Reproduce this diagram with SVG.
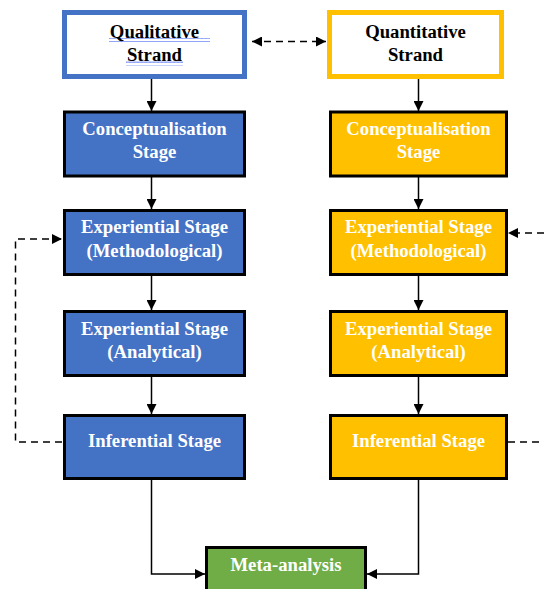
<svg xmlns="http://www.w3.org/2000/svg" width="544" height="589" viewBox="0 0 544 589">
  <style>
    text { font-family: "Liberation Serif", "Times New Roman", serif; font-weight: bold; font-size: 18.7px; text-anchor: middle; }
    .lbl-dark { fill: #000000; }
    .lbl-light { fill: #ffffff; }
    .strand-qual { fill: #ffffff; stroke: #4472C4; stroke-width: 5; }
    .strand-quant { fill: #ffffff; stroke: #FFC000; stroke-width: 5; }
    .stage-blue { fill: #4472C4; stroke: #000000; stroke-width: 3; }
    .stage-gold { fill: #FFC000; stroke: #000000; stroke-width: 3; }
    .stage-green { fill: #70AD47; stroke: #000000; stroke-width: 3; }
    .flow { fill: none; stroke: #000000; stroke-width: 1.5; marker-end: url(#head); }
    .link { fill: none; stroke: #000000; stroke-width: 1.5; stroke-dasharray: 7 5; }
  </style>
  <defs>
    <marker id="head" viewBox="0 0 10 10" refX="10" refY="5" markerWidth="10" markerHeight="10" markerUnits="userSpaceOnUse" orient="auto-start-reverse">
      <path d="M0,0 L10,5 L0,10 Z" fill="#000000"/>
    </marker>
    <pattern id="squiggle" width="4" height="4" patternUnits="userSpaceOnUse">
      <polyline points="0,3 1,1 2,3 3,1 4,3" fill="none" stroke="#4a6cf0" stroke-width="0.7"/>
    </pattern>
  </defs>

  <rect width="544" height="589" fill="#ffffff"/>

  <!-- connectors -->
  <g id="connectors">
    <!-- qualitative column -->
    <line class="flow" x1="151.5" y1="79" x2="151.5" y2="111"/>
    <line class="flow" x1="151.5" y1="177" x2="151.5" y2="209"/>
    <line class="flow" x1="151.5" y1="276" x2="151.5" y2="310"/>
    <line class="flow" x1="151.5" y1="377" x2="151.5" y2="414"/>
    <polyline class="flow" points="151.5,480 151.5,574 205,574"/>
    <!-- quantitative column -->
    <line class="flow" x1="418.5" y1="79" x2="418.5" y2="111"/>
    <line class="flow" x1="418.5" y1="177" x2="418.5" y2="209"/>
    <line class="flow" x1="418.5" y1="276" x2="418.5" y2="310"/>
    <line class="flow" x1="418.5" y1="377" x2="418.5" y2="414"/>
    <polyline class="flow" points="418.5,480 418.5,574 367,574"/>
    <!-- strand link -->
    <line class="link" x1="252" y1="41.5" x2="326" y2="41.5" marker-start="url(#head)" marker-end="url(#head)"/>
    <!-- feedback loops -->
    <polyline class="link" points="62,442 15.5,442 15.5,239 62,239" marker-end="url(#head)"/>
    <line class="link" x1="508" y1="442" x2="544" y2="442"/>
    <line class="link" x1="544" y1="233" x2="508" y2="233" marker-end="url(#head)"/>
  </g>

  <!-- qualitative strand -->
  <g id="qualitative-strand">
    <rect class="strand-qual" x="64.5" y="12.5" width="180" height="64"/>
    <rect x="109" y="38" width="101" height="4" fill="url(#squiggle)"/>
    <rect x="126" y="61.5" width="57" height="4" fill="url(#squiggle)"/>
    <text class="lbl-dark" x="154.5" y="37.5">Qualitative</text>
    <text class="lbl-dark" x="154.5" y="61">Strand</text>
  </g>

  <g id="quantitative-strand">
    <rect class="strand-quant" x="329.5" y="12.5" width="172" height="64"/>
    <text class="lbl-dark" x="415.5" y="37.5">Quantitative</text>
    <text class="lbl-dark" x="415.5" y="61">Strand</text>
  </g>

  <!-- qualitative stages -->
  <g id="qual-conceptualisation">
    <rect class="stage-blue" x="64.5" y="112" width="180" height="64"/>
    <text class="lbl-light" x="154.5" y="135">Conceptualisation</text>
    <text class="lbl-light" x="154.5" y="158">Stage</text>
  </g>
  <g id="qual-experiential-methodological">
    <rect class="stage-blue" x="64.5" y="210.5" width="180" height="64"/>
    <text class="lbl-light" x="154.5" y="233">Experiential Stage</text>
    <text class="lbl-light" x="154.5" y="256.5">(Methodological)</text>
  </g>
  <g id="qual-experiential-analytical">
    <rect class="stage-blue" x="64.5" y="311.5" width="180" height="64"/>
    <text class="lbl-light" x="154.5" y="335">Experiential Stage</text>
    <text class="lbl-light" x="154.5" y="358">(Analytical)</text>
  </g>
  <g id="qual-inferential">
    <rect class="stage-blue" x="64.5" y="415.5" width="180" height="63"/>
    <text class="lbl-light" x="154.5" y="447">Inferential Stage</text>
  </g>

  <!-- quantitative stages -->
  <g id="quant-conceptualisation">
    <rect class="stage-gold" x="330.5" y="112" width="176" height="64"/>
    <text class="lbl-light" x="418.5" y="135">Conceptualisation</text>
    <text class="lbl-light" x="418.5" y="158">Stage</text>
  </g>
  <g id="quant-experiential-methodological">
    <rect class="stage-gold" x="330.5" y="210.5" width="176" height="64"/>
    <text class="lbl-light" x="418.5" y="233">Experiential Stage</text>
    <text class="lbl-light" x="418.5" y="256.5">(Methodological)</text>
  </g>
  <g id="quant-experiential-analytical">
    <rect class="stage-gold" x="330.5" y="311.5" width="176" height="64"/>
    <text class="lbl-light" x="418.5" y="335">Experiential Stage</text>
    <text class="lbl-light" x="418.5" y="358">(Analytical)</text>
  </g>
  <g id="quant-inferential">
    <rect class="stage-gold" x="330.5" y="415.5" width="176" height="63"/>
    <text class="lbl-light" x="418.5" y="447">Inferential Stage</text>
  </g>

  <!-- synthesis -->
  <g id="meta-analysis">
    <rect class="stage-green" x="206.5" y="547.5" width="159" height="60"/>
    <text class="lbl-light" x="286" y="571">Meta-analysis</text>
  </g>
</svg>
